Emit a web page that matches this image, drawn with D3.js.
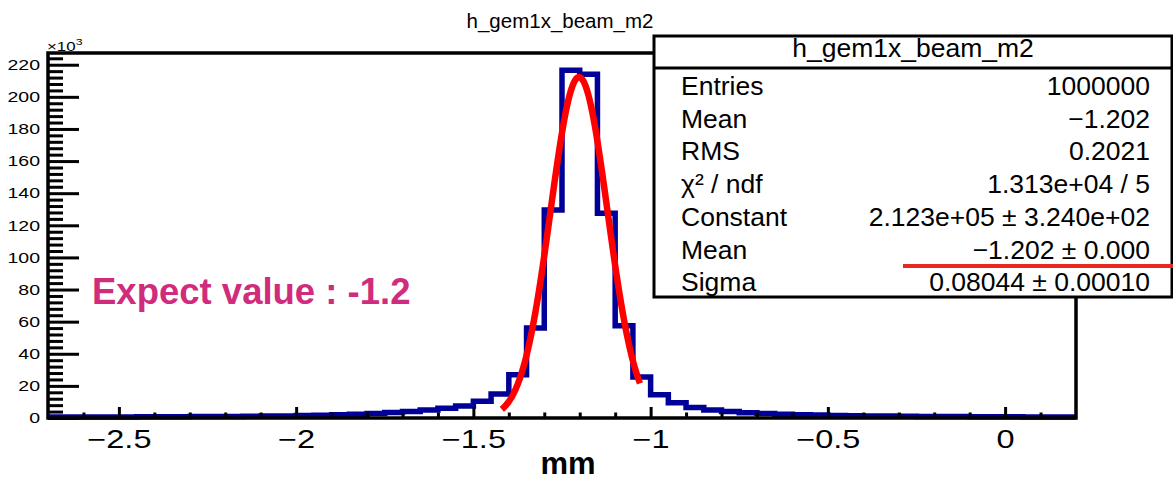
<!DOCTYPE html>
<html>
<head>
<meta charset="utf-8">
<script src="https://cdn.jsdelivr.net/npm/d3@7/dist/d3.min.js"></script>
<style>
  html, body { margin: 0; padding: 0; background: #fff; }
  svg { display: block; font-family: "Liberation Sans", Arial, Helvetica, sans-serif; }
</style>
</head>
<body>
<svg id="chart" width="1173" height="483"></svg>
<script>
// ---- data (counts in thousands, bins of 0.05 mm from -2.7 to 0.2) ----
const binEdgesRange = [-2.7, 0.2];
const binWidth = 0.05;
const countsK = [
  0.6, 0.6, 0.65, 0.7, 0.7, 0.75, 0.8, 0.85, 0.9, 0.95,
  1.0, 1.1, 1.2, 1.3, 1.5, 1.7, 2.0, 2.4, 2.8, 3.4,
  4.0, 5.0, 6.0, 7.5, 10.5, 15, 27, 56, 129.5, 216.5,
  214, 127.5, 57.5, 25.5, 14.5, 9.5, 6.5, 5.0, 4.0, 3.3,
  2.8, 2.4, 2.1, 1.8, 1.6, 1.4, 1.3, 1.2, 1.1, 1.0,
  0.95, 0.9, 0.85, 0.8, 0.75, 0.7, 0.65, 0.6
];
const xTickValues = [-2.5, -2, -1.5, -1, -0.5, 0];
const xTickLabels = ["\u22122.5", "\u22122", "\u22121.5", "\u22121", "\u22120.5", "0"];
const yTickValues = [0, 20, 40, 60, 80, 100, 120, 140, 160, 180, 200, 220];
const yMaxK = 227.3;
// Gaussian fit parameters (Constant, Mean, Sigma) and fit range
const fitConstantK = [212.3];
const fitMean = [-1.202];
const fitSigma = [0.08044];
const fitRange = [-1.42, -1.03];
const statsTitle = "h_gem1x_beam_m2";
const statsLabels = ["Entries", "Mean", "RMS", "\u03C7\u00B2 / ndf", "Constant", "Mean", "Sigma"];
const statsValues = ["1000000", "\u22121.202", "0.2021", "1.313e+04 / 5", "2.123e+05 \u00B1 3.240e+02", "\u22121.202 \u00B1 0.000", "0.08044 \u00B1 0.00010"];

// ---- layout ----
const svg = d3.select("#chart");
const L = 48, R = 1076, T = 53, B = 418;
const x = d3.scaleLinear().domain(binEdgesRange).range([L, R]);
const y = d3.scaleLinear().domain([0, yMaxK]).range([B, T]);
const stretch = 1.3;

// title
svg.append("text").attr("x", 560).attr("y", 28).attr("text-anchor", "middle")
  .attr("font-size", 20.5).text(statsTitle);

// histogram step path
const bins = countsK.map((v, i) => ({x0: binEdgesRange[0] + i * binWidth, x1: binEdgesRange[0] + (i + 1) * binWidth, v}));
let d = "";
bins.forEach((b, i) => {
  d += (i === 0 ? "M" : "L") + x(b.x0) + "," + y(b.v) + "L" + x(b.x1) + "," + y(b.v);
});
svg.append("path").attr("d", d).attr("fill", "none").attr("stroke", "#000099")
  .attr("stroke-width", 5.5).attr("stroke-linejoin", "miter");

// fit curve
const fitXs = d3.range(fitRange[0], fitRange[1] + 1e-9, (fitRange[1] - fitRange[0]) / 200);
const gauss = xv => fitConstantK[0] * Math.exp(-0.5 * Math.pow((xv - fitMean[0]) / fitSigma[0], 2));
svg.append("path").datum(fitXs)
  .attr("d", d3.line().x(v => x(v)).y(v => y(gauss(v))).curve(d3.curveLinear))
  .attr("fill", "none").attr("stroke", "#ff0000").attr("stroke-width", 6.5);

// frame
svg.append("rect").attr("x", L).attr("y", T).attr("width", R - L).attr("height", B - T)
  .attr("fill", "none").attr("stroke", "#000").attr("stroke-width", 3.5);

// y axis ticks (inward)
const yAxis = d3.axisRight(y).tickValues(yTickValues).tickSize(31).tickFormat(d3.format("d"));
const gy = svg.append("g").attr("transform", `translate(${L},0)`).call(yAxis);
gy.select(".domain").remove();
gy.selectAll(".tick line").attr("stroke", "#000").attr("stroke-width", 3);
gy.selectAll(".tick text").attr("x", -8 / stretch).attr("text-anchor", "end").attr("font-size", 15)
  .attr("transform", `scale(${stretch},1)`)
  .attr("font-family", "Liberation Sans, Arial, sans-serif").attr("fill", "#000");
const yMinor = d3.range(0, 227, 4).filter(v => v % 20 !== 0);
const gym = svg.append("g").attr("transform", `translate(${L},0)`)
  .call(d3.axisRight(y).tickValues(yMinor).tickSize(15).tickFormat(""));
gym.select(".domain").remove();
gym.selectAll(".tick line").attr("stroke", "#000").attr("stroke-width", 3);

// ×10^3
const mult = svg.append("text").attr("transform", `translate(47,51) scale(${stretch},1)`).attr("font-size", 13);
mult.append("tspan").text("\u00D710");
mult.append("tspan").attr("dy", -6).attr("font-size", 9.5).text("3");

// x axis ticks (inward, upward)
const xAxis = d3.axisTop(x).tickValues(xTickValues).tickSize(11)
  .tickFormat((v, i) => xTickLabels[i]);
const gx = svg.append("g").attr("transform", `translate(0,${B})`).call(xAxis);
gx.select(".domain").remove();
gx.selectAll(".tick line").attr("stroke", "#000").attr("stroke-width", 3);
gx.selectAll(".tick text").attr("y", 30).attr("dy", 0).attr("font-size", 25)
  .attr("transform", `scale(${stretch},1)`)
  .attr("font-family", "Liberation Sans, Arial, sans-serif").attr("fill", "#000");
const xMinor = d3.range(-2.6, 0.2, 0.1).map(v => Math.round(v * 10) / 10).filter(v => Math.abs(v * 2 - Math.round(v * 2)) > 1e-6);
const gxm = svg.append("g").attr("transform", `translate(0,${B})`)
  .call(d3.axisTop(x).tickValues(xMinor).tickSize(5.5).tickFormat(""));
gxm.select(".domain").remove();
gxm.selectAll(".tick line").attr("stroke", "#000").attr("stroke-width", 3);

// x title
svg.append("text").attr("x", 568).attr("y", 474).attr("text-anchor", "middle")
  .attr("font-size", 31).attr("font-weight", "bold").text("mm");

// annotation
svg.append("text").attr("x", 92).attr("y", 304).attr("font-size", 36.5).attr("font-weight", "bold")
  .attr("fill", "#d02c7e").text("Expect value : -1.2");

// stats box
const SB = {x: 654, y: 36, w: 518, h: 261};
svg.append("rect").attr("x", SB.x).attr("y", SB.y).attr("width", SB.w).attr("height", SB.h)
  .attr("fill", "#fff").attr("stroke", "#000").attr("stroke-width", 3);
svg.append("line").attr("x1", SB.x).attr("x2", SB.x + SB.w).attr("y1", 68).attr("y2", 68)
  .attr("stroke", "#000").attr("stroke-width", 3);
svg.append("text").attr("x", SB.x + SB.w / 2).attr("y", 57).attr("text-anchor", "middle")
  .attr("font-size", 26.5).text(statsTitle);
statsLabels.forEach((lab, i) => {
  const yy = 95 + i * 32.7;
  svg.append("text").attr("x", 681).attr("y", yy).attr("font-size", 26.5).text(lab);
  svg.append("text").attr("x", 1150).attr("y", yy).attr("text-anchor", "end").attr("font-size", 26.5).text(statsValues[i]);
});
// red underline annotation
svg.append("line").attr("x1", 903).attr("x2", 1173).attr("y1", 266).attr("y2", 266)
  .attr("stroke", "#e8281e").attr("stroke-width", 4);
</script>
</body>
</html>
